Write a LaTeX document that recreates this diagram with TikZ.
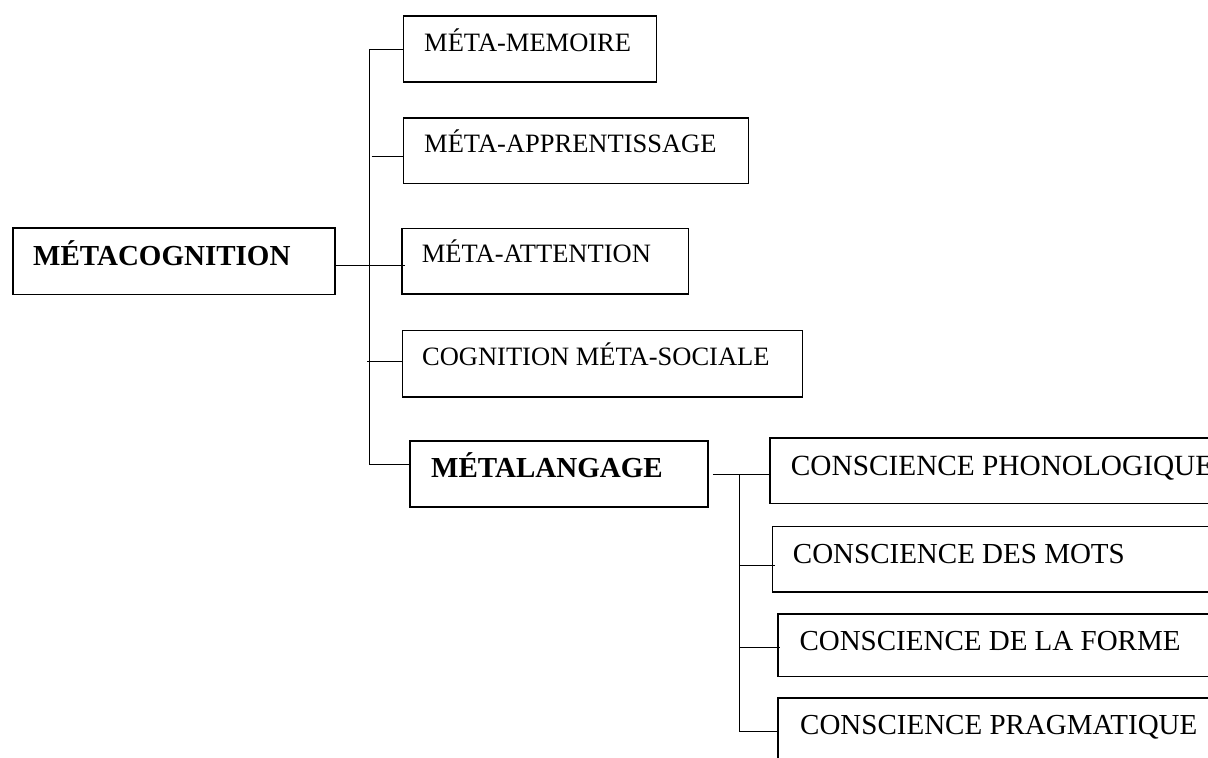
\documentclass[tikz,border=0pt]{standalone}
\usepackage{fontspec}
\setmainfont{Liberation Serif}
\newcommand\lftfont{\fontsize{26.5}{30}\selectfont}
\newcommand\rgtfont{\fontsize{29}{33}\selectfont}
\newcommand\bldfont{\fontsize{29}{33}\selectfont\bfseries}
\newcommand\phonfont{\fontsize{29.3}{33}\selectfont}
\tikzset{
  box/.style={draw, line width=1.6pt, inner sep=0pt, anchor=north west},
  lab/.style={anchor=base west, inner sep=0pt},
  link/.style={line width=1pt}
}
\begin{document}
\begin{tikzpicture}[x=1pt,y=-1pt]
\useasboundingbox (0,0) rectangle (1208,758);
\clip (0,0) rectangle (1208,758);
\fill[white] (0,0) rectangle (1208,758);

% boxes
\node[box, minimum width=322.3pt, minimum height=66.4pt] (meta) at (12,227.3) {};
\node[box, minimum width=253pt, minimum height=66pt] (mem) at (402.7,15) {};
\node[box, minimum width=345pt, minimum height=65.4pt] (app) at (402.7,117.3) {};
\node[box, minimum width=286.7pt, minimum height=65.6pt] (att) at (401,227.7) {};
\node[box, minimum width=400pt, minimum height=66.3pt] (soc) at (401.7,329.7) {};
\node[box, minimum width=298.3pt, minimum height=66pt] (mla) at (409,440) {};
\node[box, minimum width=470pt, minimum height=65.4pt] (phon) at (769.3,437.3) {};
\node[box, minimum width=470pt, minimum height=65.6pt] (mots) at (771.7,525.7) {};
\node[box, minimum width=470pt, minimum height=62.4pt] (forme) at (777.3,613.3) {};
\node[box, minimum width=470pt, minimum height=90pt] (prag) at (777.3,697.3) {};

% texts
\node[lab, font=\bldfont] (metat) at (33,265.7) {MÉTACOGNITION};
\node[lab, font=\lftfont] (memt) at (424,51.7) {MÉTA-MEMOIRE};
\node[lab, font=\lftfont] (appt) at (424,152.7) {MÉTA-APPRENTISSAGE};
\node[lab, font=\lftfont] (attt) at (421.7,262.3) {MÉTA-ATTENTION};
\node[lab, font=\lftfont] (soct) at (421.9,365) {COGNITION MÉTA-SOCIALE};
\node[lab, font=\bldfont] (mlat) at (431,477.7) {MÉTALANGAGE};
\node[lab, font=\phonfont] (phont) at (790.7,475) {CONSCIENCE PHONOLOGIQUE};
\node[lab, font=\rgtfont] (motst) at (792.7,563.3) {CONSCIENCE DES MOTS};
\node[lab, font=\rgtfont] (formet) at (799.3,650.7) {CONSCIENCE DE LA FORME};
\node[lab, font=\rgtfont] (pragt) at (800,734) {CONSCIENCE PRAGMATIQUE};

% junction coordinates
\coordinate (tTop) at (369,49);
\coordinate (tBot) at (369,464);
\coordinate (c2) at (371.7,156.7);
\coordinate (c3) at (369,265.7);
\coordinate (c4) at (367,361);
\coordinate (t2Top) at (739.5,474);
\coordinate (t2Bot) at (739.5,731);
\coordinate (c6) at (739.5,565);
\coordinate (c7) at (739.5,647.3);

% connectors, left tree
\draw[link] (mem.west |- tTop) -- (tTop) -- (tBot) -- (mla.west |- tBot);
\draw[link] (c2) -- (app.west |- c2);
\draw[link] (meta.east |- c3) -- ([xshift=4pt]att.west |- c3);
\draw[link] (c4) -- (soc.west |- c4);

% connectors, right tree
\draw[link] ([xshift=4pt]mla.east |- t2Top) -- (phon.west |- t2Top);
\draw[link] (t2Top) -- (t2Bot) -- (prag.west |- t2Bot);
\draw[link] (c6) -- ([xshift=3pt]mots.west |- c6);
\draw[link] (c7) -- ([xshift=3pt]forme.west |- c7);
\end{tikzpicture}
\end{document}
